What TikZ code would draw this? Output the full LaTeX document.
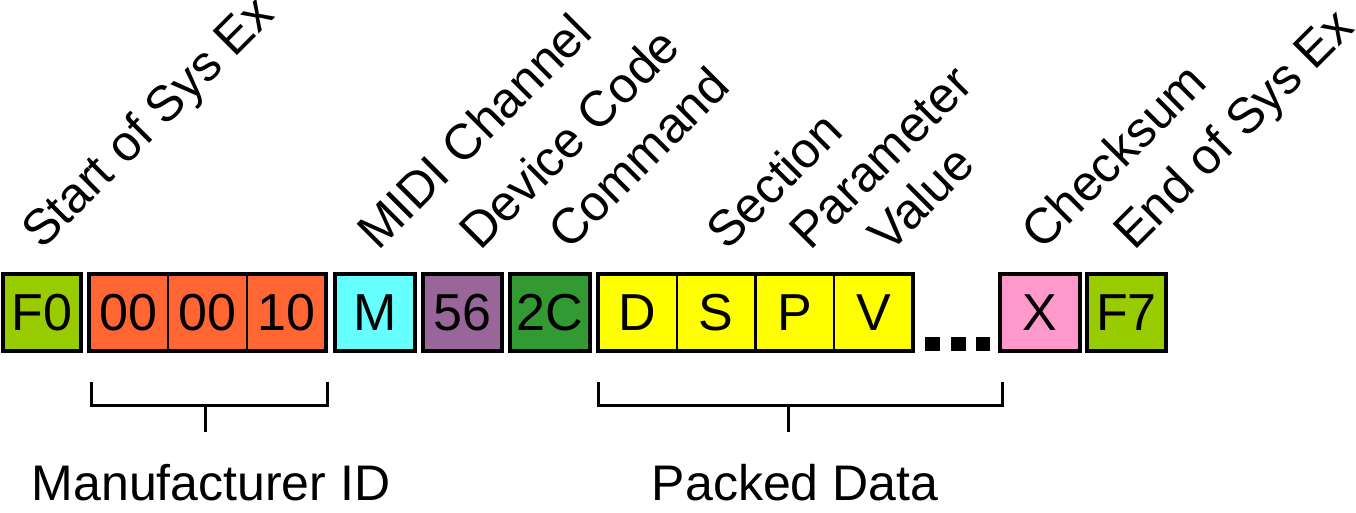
\documentclass[tikz,border=0pt]{standalone}
\usepackage{fontspec}
\setmainfont{Liberation Sans}
\definecolor{cLime}{RGB}{153,204,0}
\definecolor{cOrange}{RGB}{255,102,51}
\definecolor{cCyan}{RGB}{102,255,255}
\definecolor{cPurple}{RGB}{153,102,153}
\definecolor{cGreen}{RGB}{51,153,51}
\definecolor{cYellow}{RGB}{255,255,0}
\definecolor{cPink}{RGB}{255,153,204}
\begin{document}
\begin{tikzpicture}[x=1pt,y=-1pt,
  cell/.style={draw=black,line width=4pt,outer sep=0pt,inner sep=0pt,
    minimum width=79pt,minimum height=77pt,font=\fontsize{52}{60}\selectfont},
  subcell/.style={cell,line width=2pt},
  grp/.style={draw=black,line width=4pt},
  lbl/.style={inner sep=0pt,anchor=base west,rotate=45,font=\fontsize{50}{60}\selectfont},
  bot/.style={inner sep=0pt,anchor=base,font=\fontsize{50}{60}\selectfont},
  brk/.style={line width=3pt},
  dot/.style={fill=black}]
\useasboundingbox (0,0) rectangle (1356,513);
% single boxes
\node[cell,fill=cLime,minimum width=78pt] (f0) at (42,312.5) {F0};
\node[subcell,fill=cOrange] (o1) at (128.5,312.5) {00};
\node[subcell,fill=cOrange] (o2) at (207.5,312.5) {00};
\node[subcell,fill=cOrange] (o3) at (286.5,312.5) {10};
\draw[grp] (o1.north west) rectangle (o3.south east);
\node[cell,fill=cCyan,minimum width=80pt] (m) at (375,312.5) {M};
\node[cell,fill=cPurple] (dev) at (462.5,312.5) {56};
\node[cell,fill=cGreen,minimum width=80pt] (cmd) at (550,312.5) {2C};
\node[subcell,fill=cYellow,minimum width=78.75pt] (yd) at (637.4,312.5) {D};
\node[subcell,fill=cYellow,minimum width=78.75pt] (ys) at (716.1,312.5) {S};
\node[subcell,fill=cYellow,minimum width=78.75pt] (yp) at (794.9,312.5) {P};
\node[subcell,fill=cYellow,minimum width=78.75pt] (yv) at (873.6,312.5) {V};
\draw[grp] (yd.north west) rectangle (yv.south east);
\fill[dot] (925,337) rectangle (940,351);
\fill[dot] (951,337) rectangle (966,351);
\fill[dot] (976,337) rectangle (990,351);
\node[cell,fill=cPink,minimum width=80pt] (x) at (1040,312.5) {X};
\node[cell,fill=cLime] (f7) at (1126.5,312.5) {F7};
% rotated labels
\node[lbl] (l1) at (42,251) {Start of Sys Ex};
\node[lbl] (l2) at (378,252) {MIDI Channel};
\node[lbl] (l3) at (480,252) {Device Code};
\node[lbl] (l4) at (569,252) {Command};
\node[lbl] (l5) at (727,252) {Section};
\node[lbl] (l6) at (810,252) {Parameter};
\node[lbl] (l7) at (889,255) {Value};
\node[lbl] (l8) at (1042,252) {Checksum};
\node[lbl] (l9) at (1134,252) {End of Sys Ex};
% brackets
\coordinate (ma) at (91,382); \coordinate (mb) at (327,382);
\coordinate (mc) at (205,405); \coordinate (md) at (205,432);
\draw[brk] (ma) -- (91,405) -- (327,405) -- (mb);
\draw[brk] (mc) -- (md);
\coordinate (pa) at (598,382); \coordinate (pb) at (1002,382);
\coordinate (pc) at (788,405); \coordinate (pd) at (788,432);
\draw[brk] (pa) -- (598,405) -- (1002,405) -- (pb);
\draw[brk] (pc) -- (pd);
\node[bot] (mfr) at (211,500) {Manufacturer ID};
\node[bot] (pk) at (795,500) {Packed Data};
\end{tikzpicture}
\end{document}
